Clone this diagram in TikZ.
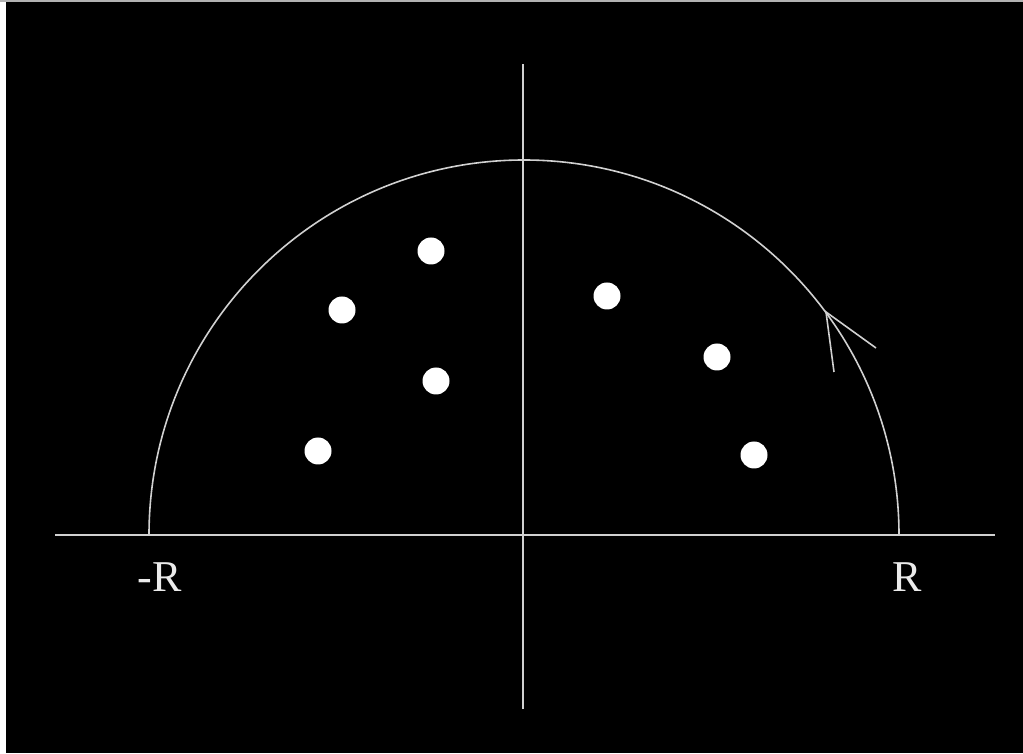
\documentclass[tikz,border=0pt]{standalone}
\usepackage{fontspec}
\setmainfont{Liberation Serif}
\begin{document}
\begin{tikzpicture}[x=1pt,y=1pt,
  ln/.style={draw=white!82!black,line width=2pt},
  pole/.style={circle,fill=white,draw=none,inner sep=0pt,minimum size=27pt},
  lbl/.style={text=white!92!black,font=\fontsize{44}{44}\selectfont,anchor=base,inner sep=0pt}]
\useasboundingbox (0,0) rectangle (1023,753);
\fill[white] (0,0) rectangle (1023,753);
\fill[white!70!black] (0,751) rectangle (1023,753);
\fill[black] (6,0) rectangle (1023,751);
% axes
\coordinate (xl) at (55,218);
\coordinate (xr) at (995,218);
\coordinate (yt) at (523,689);
\coordinate (yb) at (523,44);
\draw[ln] (xl) -- (xr);
\draw[ln] (yb) -- (yt);
% semicircle contour
\coordinate (c) at (524,218);
\coordinate (ra) at (899,218);
\draw[ln,line width=1.6pt] (ra) arc[start angle=0,end angle=180,radius=375pt];
% arrowhead on contour
\coordinate (tip) at (826,441);
\coordinate (h1) at (834,381);
\coordinate (h2) at (876,405);
\draw[ln,line width=1.6pt] (h1) -- (tip) -- (h2);
% poles
\node[pole] (p1) at (431,502) {};
\node[pole] (p2) at (342,443) {};
\node[pole] (p3) at (436,372) {};
\node[pole] (p4) at (318,302) {};
\node[pole] (p5) at (607,457) {};
\node[pole] (p6) at (717,396) {};
\node[pole] (p7) at (754,298) {};
% labels
\node[lbl] (lm) at (159.5,161) {-R};
\node[lbl] (lp) at (907.5,161) {R};
\end{tikzpicture}
\end{document}
